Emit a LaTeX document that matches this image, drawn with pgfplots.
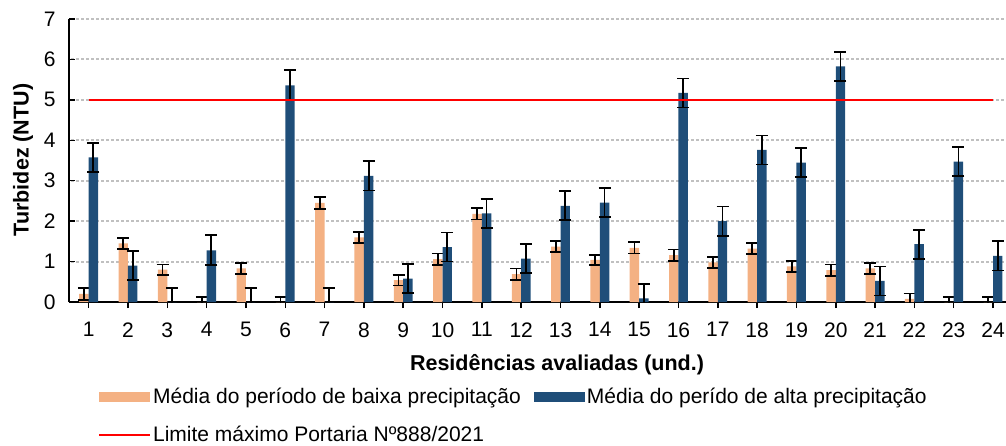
\documentclass[border=0pt]{standalone}
\usepackage{pgfplots}
\usepackage{pgfplotstable}
\pgfplotsset{compat=1.18}
\usepackage{fontspec}
\setmainfont{Liberation Sans}
\definecolor{lowc}{HTML}{F4B183}
\definecolor{highc}{HTML}{1F4E79}
\definecolor{gridc}{HTML}{C0C0C0}
\pgfplotstableread{
x low lowe high highe
1 0.20 0.15 3.58 0.36
2 1.45 0.14 0.90 0.36
3 0.80 0.13 0.00 0.355
4 0.00 0.13 1.28 0.37
5 0.83 0.14 0.00 0.355
6 0.00 0.13 5.36 0.37
7 2.45 0.14 0.00 0.355
8 1.60 0.14 3.12 0.36
9 0.54 0.13 0.58 0.36
10 1.06 0.14 1.36 0.36
11 2.18 0.14 2.19 0.36
12 0.69 0.14 1.07 0.36
13 1.37 0.14 2.38 0.36
14 1.04 0.13 2.46 0.36
15 1.34 0.14 0.09 0.36
16 1.16 0.14 5.17 0.36
17 0.98 0.14 2.00 0.36
18 1.32 0.14 3.76 0.36
19 0.88 0.14 3.45 0.36
20 0.79 0.14 5.83 0.36
21 0.83 0.14 0.52 0.36
22 0.08 0.13 1.43 0.36
23 0.00 0.13 3.47 0.36
24 0.00 0.13 1.14 0.36
}\datatab
\begin{document}
\begin{tikzpicture}
% dotted horizontal gridlines (behind the axis)
\foreach \k in {1,...,7}{
  \foreach \i in {0,...,186}{
    \fill[gridc] ({\i*5pt+2pt},{\k*283pt/7-1pt}) rectangle ++(2.8pt,2pt);
  }
}
\begin{axis}[
  scale only axis,
  width=937pt, height=283pt,
  at={(0pt,0pt)}, anchor=south west,
  xmin=0.5, xmax=24.33,
  ymin=0, ymax=7,
  axis x line=bottom, axis y line=left,
  axis line style={black, line width=1.5pt, -},
  x axis line style={line width=2pt},
  xtick={1,...,24},
  ytick={0,...,7},
  tick align=inside,
  major tick length=6pt,
  x tick style={black, line width=1.5pt},
  y tick style={black, line width=1.3pt},
  /pgf/number format/assume math mode=true,
  tick label style={font=\fontsize{21}{25}\selectfont},
  xticklabel style={yshift=-11pt},
  yticklabel style={xshift=-10pt},
  ybar, bar width=0.24,
  legend style={draw=none, fill=none, at={(axis description cs:0.0277,-0.29)}, anchor=north west,
    font=\fontsize{21}{25}\selectfont, legend columns=2,
    /tikz/every even column/.append style={column sep=11pt},
    row sep=17pt,
    nodes={inner sep=2pt}},
  legend cell align=left,
]
\addplot[fill=lowc, draw=none, bar shift=-0.12,
  area legend, legend image code/.code={\fill[lowc] (0pt,-5pt) rectangle (51pt,5pt);},
  error bars/.cd, y dir=both, y explicit,
  error bar style={black, line width=1.8pt},
  error mark=-, error mark options={rotate=90, black, line width=1.8pt, mark size=6pt}]
  table[x=x, y=low, y error=lowe] {\datatab};
\addlegendentry{Média do período de baixa precipitação}
\addplot[fill=highc, draw=none, bar shift=0.12,
  area legend, legend image code/.code={\fill[highc] (0pt,-5pt) rectangle (51pt,5pt);},
  error bars/.cd, y dir=both, y explicit,
  error bar style={black, line width=1.8pt},
  error mark=-, error mark options={rotate=90, black, line width=1.8pt, mark size=6pt}]
  table[x=x, y=high, y error=highe] {\datatab};
\addlegendentry{Média do perído de alta precipitação}
\addplot[sharp plot, red, line width=2pt,
  legend image code/.code={\draw[red, line width=2pt] (0pt,0pt) -- (51pt,0pt);}]
  coordinates {(1,5) (24,5)};
\addlegendentry{Limite máximo Portaria Nº888/2021}
\end{axis}
\node[rotate=90, font=\fontsize{21.5}{25}\selectfont\bfseries] at (-46pt,142pt) {Turbidez (NTU)};
\node[font=\fontsize{21.5}{25}\selectfont\bfseries] at (488pt,-63pt) {Residências avaliadas (und.)};
\pgfresetboundingbox
\path[use as bounding box] (-69pt,-143pt) rectangle (937pt,302pt);
\end{tikzpicture}
\end{document}
